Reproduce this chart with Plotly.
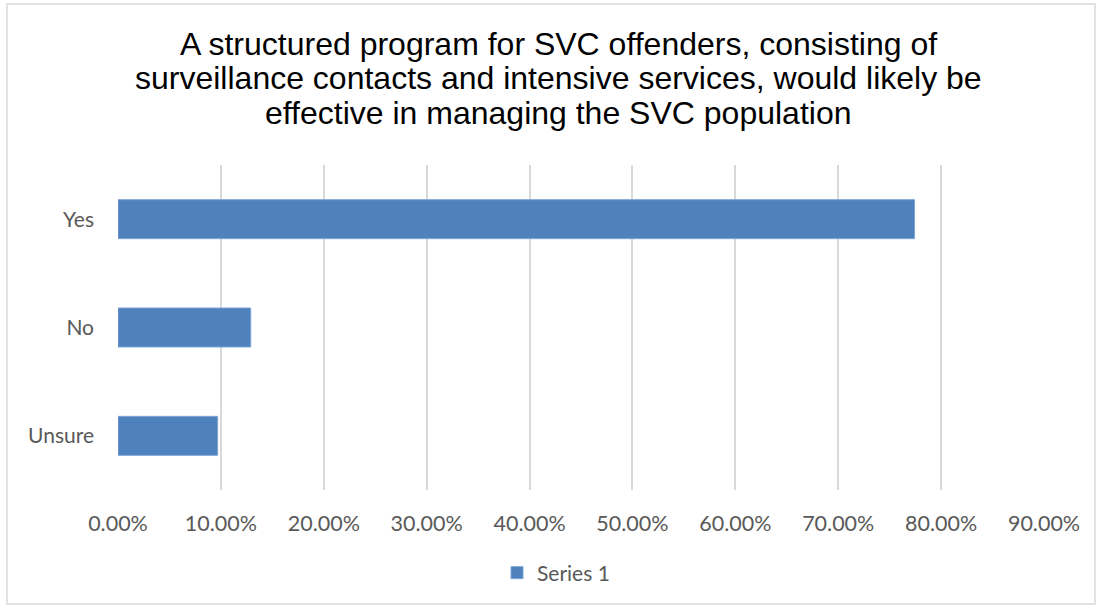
import plotly.graph_objects as go

categories = ["Yes", "No", "Unsure"]
values = [0.7742, 0.1290, 0.0968]
series_name = "Series 1"
tick_vals = [0, 0.1, 0.2, 0.3, 0.4, 0.5, 0.6, 0.7, 0.8, 0.9]
tick_text = ["0.00%", "10.00%", "20.00%", "30.00%", "40.00%", "50.00%",
             "60.00%", "70.00%", "80.00%", "90.00%"]
title_lines = ["A structured program for SVC offenders, consisting of",
               "surveillance contacts and intensive services, would likely be",
               "effective in managing the SVC population"]

W, H = 1099, 607
L, R, T, B = 118, 55, 165, 117
pw, ph = W - L - R, H - T - B

fig = go.Figure()
fig.add_trace(go.Bar(
    y=categories, x=values, orientation="h", name=series_name,
    marker=dict(color="#4F81BD", line=dict(color="#7FA3D6", width=1)),
    width=0.36, showlegend=True,
))

def px_x(p):
    return (p - L) / pw

def px_y(p):
    return (H - B - p) / ph

title_y = [44, 78, 113]
annotations = [dict(text=t, x=px_x(558), xref="paper",
                    y=px_y(yy), yref="paper", xanchor="center", yanchor="middle",
                    showarrow=False,
                    font=dict(family="Liberation Sans, Arial", size=32, color="#000000"))
               for t, yy in zip(title_lines, title_y)]

fig.update_layout(
    width=W, height=H,
    margin=dict(l=L, r=R, t=T, b=B, autoexpand=False),
    paper_bgcolor="white", plot_bgcolor="white",
    annotations=annotations,
    xaxis=dict(range=[0, 0.9], tickvals=tick_vals, ticktext=tick_text,
               showgrid=True, gridcolor="#D9D9D9", gridwidth=2,
               zeroline=False, showline=False, ticks="",
               ticklabelstandoff=18,
               tickfont=dict(family="Lato", size=21.5, color="#595959")),
    yaxis=dict(categoryorder="array", categoryarray=categories[::-1],
               range=[-0.5, 2.5],
               showgrid=False, zeroline=False, showline=False, ticks="",
               ticklabelstandoff=23,
               tickfont=dict(family="Lato", size=21, color="#595959")),
    legend=dict(orientation="h", x=px_x(556), xanchor="center", xref="paper",
                y=1 - 573 / H, yanchor="middle", yref="container",
                font=dict(family="Lato", size=21, color="#595959"),
                itemwidth=30),
    shapes=[dict(type="rect", xref="paper", yref="paper",
                 x0=px_x(7), x1=px_x(1095), y0=px_y(604), y1=px_y(4),
                 line=dict(color="#D9D9D9", width=1.5), fillcolor="rgba(0,0,0,0)",
                 layer="below")],
)

fig.write_html("out.html")
